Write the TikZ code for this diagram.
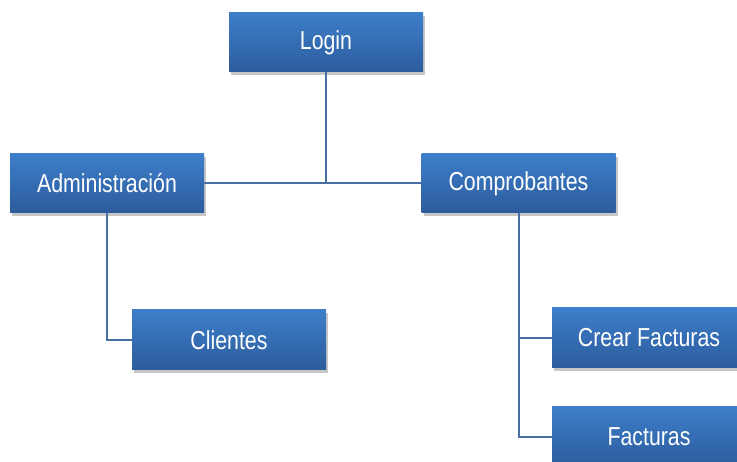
\documentclass[tikz,border=0pt]{standalone}
\usepackage{fontspec}
\setmainfont{Liberation Sans}[FakeStretch=0.82]
\usetikzlibrary{shadows}
\definecolor{boxtop}{RGB}{61,126,202}
\definecolor{boxbot}{RGB}{44,92,156}
\definecolor{linecol}{RGB}{72,112,164}
\tikzset{
  orgbox/.style={rectangle, minimum width=194pt, minimum height=59pt,
    top color=boxtop, bottom color=boxbot, draw=none,
    text=white, font=\fontsize{26}{30}\selectfont,
    drop shadow={fill=black, opacity=0.22, shadow xshift=2pt, shadow yshift=-3pt}},
  conn/.style={draw=linecol, line width=2pt}
}
\begin{document}
\begin{tikzpicture}[x=1pt,y=-1pt]
\useasboundingbox (0,0) rectangle (737,462);
\node[orgbox] (login) at (326,42.5) {Login};
\node[orgbox] (admin) at (107,183.5) {Administración};
\node[orgbox] (comp) at (518.5,183.5) {Comprobantes};
\node[orgbox, minimum height=60pt] (clientes) at (229,340) {Clientes};
\node[orgbox, minimum height=60pt] (crear) at (649,338) {Crear Facturas};
\node[orgbox, minimum height=60pt] (facturas) at (649,437) {Facturas};
\coordinate (mid) at (login.south |- admin.east);
\draw[conn] (admin.east) -- (comp.west);
\draw[conn] (login.south) -- (mid);
\draw[conn] (admin.south) -- (admin.south |- clientes.west) -- (clientes.west);
\draw[conn] (comp.south) -- (comp.south |- facturas.west) -- (facturas.west);
\draw[conn] (comp.south |- crear.west) -- (crear.west);
\end{tikzpicture}
\end{document}
